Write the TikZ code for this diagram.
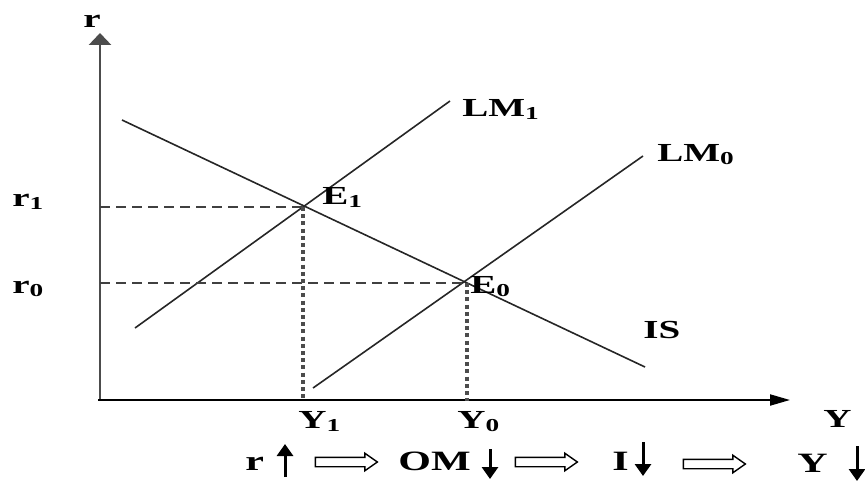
\documentclass[tikz,border=0pt]{standalone}
\usepackage{fontspec}
\setmainfont{Liberation Serif}[FakeStretch=1.5]
\usetikzlibrary{arrows.meta,shapes.arrows}

\begin{document}
\begin{tikzpicture}[x=0.5pt,y=-0.5pt,
  lab/.style={font=\fontsize{13}{15}\selectfont\bfseries, inner sep=0pt, anchor=base west},
  big/.style={lab, font=\fontsize{14}{16}\selectfont\bfseries},
  curve/.style={line width=0.8pt, black!85},
  guide/.style={dash pattern=on 5pt off 3pt, line width=0.7pt, black!75},
  drop/.style={dash pattern=on 2pt off 1.6pt, line width=1.6pt, black!70},
  chg/.style={-{Triangle[width=8pt,length=6pt]}, line width=1.5pt},
  thenarrow/.style={draw, line width=0.7pt, shape=single arrow, inner xsep=0pt,
    inner ysep=2pt, minimum height=31pt, minimum width=0pt,
    single arrow head extend=2pt, single arrow tip angle=70}]
  \useasboundingbox (0,0) rectangle (865,481);

  % 坐标轴
  \coordinate (O) at (100,401);
  \coordinate (ytip) at (100,33);
  \coordinate (xtip) at (790,400);
  \draw[line width=1.4pt, black!70, -{Triangle[width=11pt,length=6pt]}] (O) -- (ytip);
  \draw[line width=1pt, -{Triangle[width=5.5pt,length=10pt]}] (98,400) -- (xtip);
  \node[lab] (rlab) at (83,28) {r};
  \node[lab] (Ylab) at (823,427) {Y};

  % IS 与 LM 曲线
  \coordinate (isa) at (122,120);
  \coordinate (isb) at (645,367);
  \coordinate (lmonea) at (135,328);
  \coordinate (lmoneb) at (450,101);
  \coordinate (lmzeroa) at (313,388);
  \coordinate (lmzerob) at (643,156);
  \draw[curve] (isa) -- (isb);
  \draw[curve] (lmonea) -- (lmoneb);
  \draw[curve] (lmzeroa) -- (lmzerob);
  \node[lab] (IS) at (643,338) {IS};
  \node[lab] (LMone) at (462,116) {LM\textsubscript{1}};
  \node[lab] (LMzero) at (657,161) {LM\textsubscript{0}};

  % 均衡点
  \coordinate (E1) at (303,207);
  \coordinate (E0) at (467,283);
  \node[lab] (Eone) at (322,204) {E\textsubscript{1}};
  \node[lab] (Ezero) at (470,293) {E\textsubscript{0}};

  % 虚线
  \draw[guide] (O |- E1) -- (E1);
  \draw[guide] (O |- E0) -- (E0);
  \draw[drop] (E1) -- (E1 |- O);
  \draw[drop] (E0) -- (E0 |- O);
  \node[lab] (rone) at (12,206) {r\textsubscript{1}};
  \node[lab] (rzero) at (12,293) {r\textsubscript{0}};
  \node[lab] (Yone) at (298,428) {Y\textsubscript{1}};
  \node[lab] (Yzero) at (457,428) {Y\textsubscript{0}};

  % 传导过程
  \node[big] (rr) at (245,470) {r};
  \draw[chg] (285,477) -- (285,444);
  \node[thenarrow] (t1) at (343,462) {};
  \node[big] (OM) at (398,470) {OM};
  \draw[chg] (490,449) -- (490,479);
  \node[thenarrow] (t2) at (543,462) {};
  \node[big] (II) at (612,470) {I};
  \draw[chg] (643,442) -- (643,476);
  \node[thenarrow] (t3) at (711,464) {};
  \node[big] (YY) at (797,472) {Y};
  \draw[chg] (857,446) -- (857,481);
\end{tikzpicture}
\end{document}
